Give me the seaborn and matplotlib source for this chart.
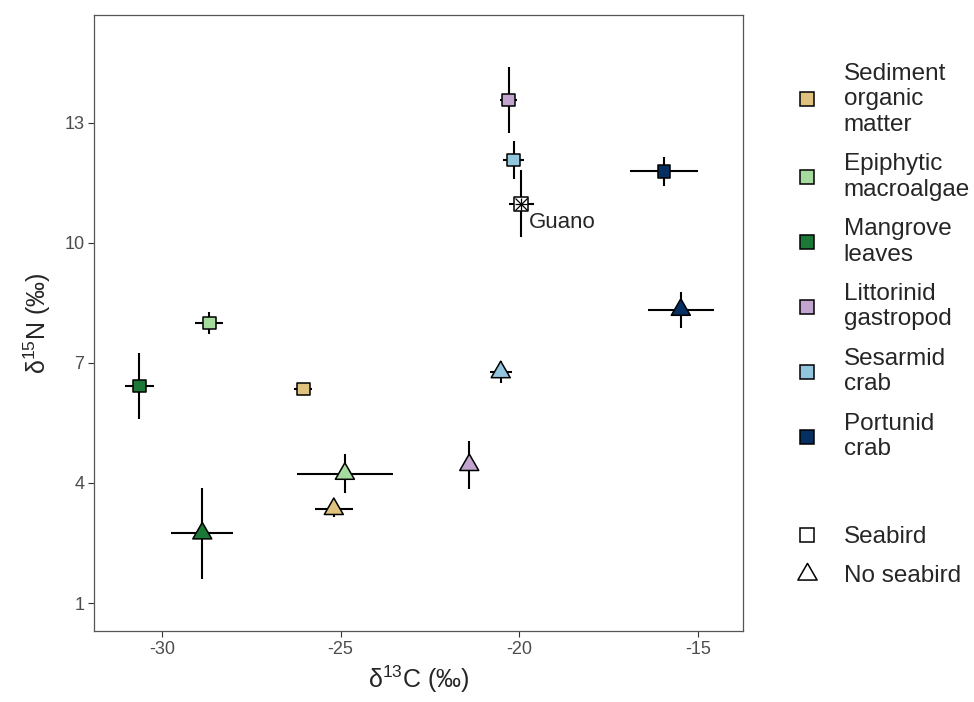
import numpy as np
import pandas as pd
import matplotlib
matplotlib.use("Agg")
import matplotlib.pyplot as plt
from matplotlib.lines import Line2D
from matplotlib.path import Path
import seaborn as sns

# 식이원 (source) 이름과 색
sources = ["Sediment organic matter", "Epiphytic macroalgae", "Mangrove leaves",
           "Littorinid gastropod", "Sesarmid crab", "Portunid crab"]
legend_labels = ["Sediment\norganic\nmatter", "Epiphytic\nmacroalgae", "Mangrove\nleaves",
                 "Littorinid\ngastropod", "Sesarmid\ncrab", "Portunid\ncrab"]
colors = ["#DFC27D", "#A6DBA0", "#1B7837", "#C2A5CF", "#92C5DE", "#053061"]

# Seabird 섬 (mean, sd)
seabird_d13c = [-26.04, -28.67, -30.63, -20.30, -20.16, -15.95]
seabird_d13c_sd = [0.25, 0.39, 0.41, 0.23, 0.30, 0.94]
seabird_d15n = [6.35, 8.00, 6.43, 13.57, 12.07, 11.79]
seabird_d15n_sd = [0.10, 0.28, 0.83, 0.83, 0.48, 0.36]

# No seabird 섬
noseabird_d13c = [-25.19, -24.88, -28.87, -21.40, -20.52, -15.48]
noseabird_d13c_sd = [0.53, 1.34, 0.87, 0.15, 0.31, 0.93]
noseabird_d15n = [3.35, 4.23, 2.74, 4.45, 6.77, 8.33]
noseabird_d15n_sd = [0.20, 0.49, 1.13, 0.61, 0.28, 0.45]

# Guano
guano_d13c = -19.94
guano_d13c_sd = 0.34
guano_d15n = 10.98
guano_d15n_sd = 0.84

x_ticks = [-30, -25, -20, -15]
y_ticks = [1, 4, 7, 10, 13]

sns.set_style("white")
plt.rcParams["font.family"] = ["Liberation Sans", "DejaVu Sans"]
plt.rcParams["mathtext.fontset"] = "custom"
plt.rcParams["mathtext.rm"] = "Liberation Sans"
plt.rcParams["mathtext.default"] = "regular"
plt.rcParams["axes.unicode_minus"] = False

df_sb = pd.DataFrame({"source": sources, "d13C": seabird_d13c, "d13C_sd": seabird_d13c_sd,
                      "d15N": seabird_d15n, "d15N_sd": seabird_d15n_sd})
df_ns = pd.DataFrame({"source": sources, "d13C": noseabird_d13c, "d13C_sd": noseabird_d13c_sd,
                      "d15N": noseabird_d15n, "d15N_sd": noseabird_d15n_sd})
palette = dict(zip(sources, colors))

# 정삼각형 마커 (무게중심 = 데이터 위치), 닫힌 경로
tri = Path([(-1, -0.577), (1, -0.577), (0, 1.155), (-1, -0.577)],
           [Path.MOVETO, Path.LINETO, Path.LINETO, Path.CLOSEPOLY])

fig = plt.figure(figsize=(9.74, 7.02), dpi=100)
ax = fig.add_axes([94 / 974, 1 - 631 / 702, 649 / 974, 616 / 702])

for d in (df_sb, df_ns):
    ax.errorbar(d["d13C"], d["d15N"], xerr=d["d13C_sd"], yerr=d["d15N_sd"],
                fmt="none", ecolor="black", elinewidth=1.5, capsize=0, zorder=2)
ax.errorbar([guano_d13c], [guano_d15n], xerr=[guano_d13c_sd], yerr=[guano_d15n_sd],
            fmt="none", ecolor="black", elinewidth=1.5, capsize=0, zorder=2)

sns.scatterplot(data=df_sb, x="d13C", y="d15N", hue="source", palette=palette,
                marker="s", s=78, edgecolor="black", linewidth=1.1, legend=False, ax=ax, zorder=3)
sns.scatterplot(data=df_ns, x="d13C", y="d15N", hue="source", palette=palette,
                marker=tri, s=250, edgecolor="black", linewidth=1.1, legend=False, ax=ax, zorder=3)

# guano: 흰 사각형 + X + '+'
ax.scatter([guano_d13c], [guano_d15n], marker="s", s=90, facecolor="white",
           edgecolor="black", linewidth=1.1, zorder=3)
ax.scatter([guano_d13c], [guano_d15n], marker="x", s=75, color="black", linewidth=0.9, zorder=4)
ax.scatter([guano_d13c], [guano_d15n], marker="+", s=75, color="black", linewidth=0.9, zorder=4)
ax.text(guano_d13c + 0.22, guano_d15n - 0.47, "Guano", ha="left", va="center", fontsize=16)

ax.set_xlim(-31.9, -13.74)
ax.set_ylim(0.3, 15.7)
ax.set_xticks(x_ticks)
ax.set_yticks(y_ticks)
ax.set_xlabel("δ$^{13}$C (‰)", fontsize=18, labelpad=4)
ax.set_ylabel("δ$^{15}$N (‰)", fontsize=18, labelpad=8)
ax.tick_params(axis="both", which="both", length=4, width=0.8, color="#333333",
               labelsize=13, labelcolor="#4D4D4D", pad=3, bottom=True, left=True)
for sp in ax.spines.values():
    sp.set_color("#555555")
    sp.set_linewidth(0.9)

# 범례 1: 식이원 색
h1 = [Line2D([], [], marker="s", linestyle="none", markerfacecolor=c, markeredgecolor="black",
             markersize=9.5, markeredgewidth=1.1) for c in colors]
leg1 = fig.legend(h1, legend_labels, loc="upper left", bbox_to_anchor=(795 / 974, 1 - 63 / 702),
                  frameon=False, fontsize=17.5, handlelength=1.0, handletextpad=1.0,
                  labelspacing=0.72, borderpad=0, borderaxespad=0)
for col in leg1._legend_handle_box.get_children():
    for item in col.get_children():
        item.align = "center"

# 범례 2: 섬 종류
h2 = [Line2D([], [], marker="s", linestyle="none", markerfacecolor="white", markeredgecolor="black",
             markersize=10, markeredgewidth=1.1),
      Line2D([], [], marker=tri, linestyle="none", markerfacecolor="white", markeredgecolor="black",
             markersize=16, markeredgewidth=1.1)]
leg2 = fig.legend(h2, ["Seabird", "No seabird"], loc="upper left",
                  bbox_to_anchor=(795 / 974, 1 - 526 / 702), frameon=False, fontsize=17.5,
                  handlelength=1.0, handletextpad=1.0, labelspacing=0.7, borderpad=0,
                  borderaxespad=0)

fig.savefig("out.png", dpi=100)
